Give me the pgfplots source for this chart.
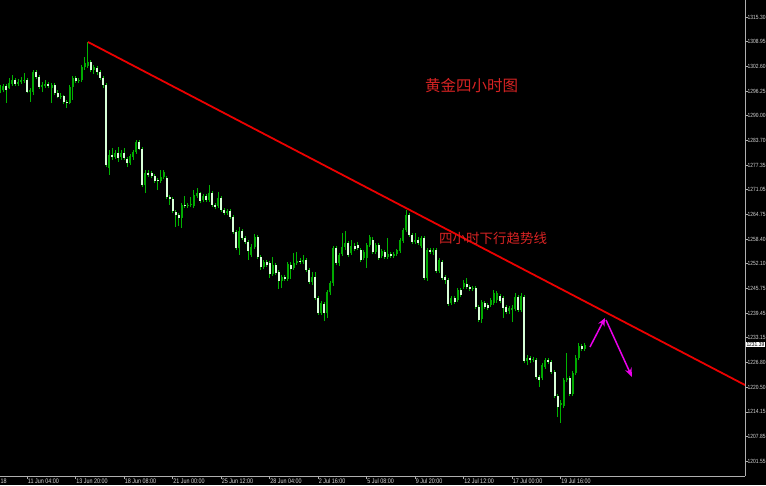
\documentclass[border=0pt]{standalone}
\usepackage{pgfplots}
\pgfplotsset{compat=1.18}
\usepackage{pgfplotstable}
\usepackage{fontspec}
\setmainfont{Liberation Sans}
\newfontfamily\narrow[FakeStretch=0.82]{Liberation Sans}
\newfontfamily\cjk{Noto Sans CJK SC}
\usetikzlibrary{arrows.meta}
\definecolor{wick}{RGB}{0,180,0}
\definecolor{bull}{RGB}{0,170,0}
\definecolor{bear}{RGB}{215,255,215}
\definecolor{axgray}{RGB}{175,175,175}
\definecolor{lbl}{RGB}{215,215,215}
\definecolor{trend}{RGB}{235,0,0}
\definecolor{note}{RGB}{215,35,35}
\definecolor{arrowmag}{RGB}{235,0,235}

\pgfplotstableread{
i o h l c
0 1296.60 1297.88 1295.83 1297.11
1 1296.60 1298.14 1296.09 1297.63
2 1297.63 1298.14 1293.27 1296.60
3 1297.11 1299.68 1296.86 1298.40
4 1298.14 1300.44 1297.63 1299.16
5 1299.16 1299.68 1297.63 1298.14
6 1298.14 1299.42 1297.63 1298.65
7 1298.65 1299.93 1298.14 1299.16
8 1298.91 1300.96 1298.40 1299.16
9 1299.16 1299.68 1295.83 1296.09
10 1296.09 1297.11 1293.53 1296.60
11 1296.09 1301.73 1295.32 1301.21
12 1301.21 1301.73 1299.42 1299.93
13 1299.93 1300.44 1296.86 1297.37
14 1297.37 1298.65 1296.09 1297.88
15 1297.63 1299.16 1297.11 1298.14
16 1298.14 1298.65 1297.11 1297.63
17 1297.11 1298.40 1293.27 1297.88
18 1297.88 1298.40 1295.32 1295.83
19 1295.83 1296.60 1294.55 1294.81
20 1294.81 1295.83 1294.30 1295.06
21 1295.06 1295.32 1293.01 1293.53
22 1293.53 1294.04 1291.99 1293.27
23 1293.27 1297.88 1293.01 1297.37
24 1297.37 1300.19 1294.04 1299.68
25 1299.68 1300.19 1298.40 1298.91
26 1298.91 1299.68 1298.40 1299.16
27 1299.16 1303.01 1298.65 1302.49
28 1302.49 1305.06 1301.73 1303.52
29 1302.75 1308.90 1302.24 1303.78
30 1303.78 1304.29 1301.21 1301.73
31 1301.73 1303.01 1300.70 1302.49
32 1302.24 1302.75 1300.44 1301.21
33 1301.21 1301.73 1299.16 1299.68
34 1299.68 1300.19 1297.11 1297.88
35 1297.88 1298.40 1276.87 1277.39
36 1276.62 1281.23 1274.83 1279.95
37 1279.95 1281.74 1278.67 1279.44
38 1279.44 1281.23 1278.92 1280.46
39 1280.46 1282.00 1278.16 1279.18
40 1279.44 1281.23 1278.67 1280.46
41 1280.46 1281.74 1278.67 1279.18
42 1278.92 1279.44 1276.87 1277.90
43 1277.90 1280.21 1277.39 1279.69
44 1279.44 1281.23 1278.67 1280.72
45 1280.72 1283.79 1280.21 1283.28
46 1283.28 1283.79 1281.23 1281.49
47 1281.49 1282.00 1271.75 1272.26
48 1272.26 1276.11 1270.21 1275.34
49 1275.34 1276.11 1274.31 1274.83
50 1275.34 1275.85 1274.06 1274.57
51 1274.57 1275.08 1272.78 1273.29
52 1273.54 1274.06 1270.98 1273.29
53 1273.29 1276.11 1272.78 1274.31
54 1274.31 1276.11 1273.80 1275.59
55 1274.06 1274.57 1268.68 1269.19
56 1269.19 1269.70 1267.14 1268.68
57 1268.68 1269.19 1265.09 1265.60
58 1265.35 1265.86 1261.50 1264.58
59 1264.58 1265.09 1261.76 1263.81
60 1263.81 1267.65 1261.25 1267.14
61 1267.14 1269.44 1266.37 1266.88
62 1266.88 1267.65 1266.37 1267.14
63 1267.14 1269.19 1266.63 1267.40
64 1266.88 1270.98 1266.37 1269.70
65 1269.44 1271.49 1268.93 1270.21
66 1270.21 1270.47 1267.65 1268.17
67 1268.42 1269.96 1267.91 1269.44
68 1269.44 1269.96 1267.91 1268.42
69 1268.42 1272.26 1267.91 1270.21
70 1270.21 1270.72 1266.63 1267.14
71 1267.14 1267.65 1266.11 1266.63
72 1266.88 1270.47 1266.37 1268.93
73 1268.93 1269.44 1265.35 1265.86
74 1265.86 1266.37 1264.58 1265.09
75 1265.09 1266.11 1264.58 1265.60
76 1265.60 1266.11 1263.55 1264.07
77 1264.07 1264.58 1259.71 1260.22
78 1260.22 1260.73 1255.61 1256.12
79 1256.12 1261.50 1254.33 1260.47
80 1260.47 1260.99 1258.17 1258.68
81 1258.68 1259.19 1257.15 1257.66
82 1257.66 1258.17 1253.05 1255.35
83 1254.33 1257.15 1253.82 1256.38
84 1256.38 1259.71 1255.87 1258.94
85 1258.94 1259.45 1253.31 1253.82
86 1253.82 1254.33 1250.49 1251.25
87 1251.25 1253.05 1250.74 1252.53
88 1252.53 1253.05 1251.25 1251.77
89 1252.28 1252.79 1248.44 1249.46
90 1249.46 1253.82 1248.95 1251.77
91 1251.77 1252.28 1249.21 1249.72
92 1249.97 1250.49 1245.62 1247.67
93 1247.67 1249.21 1245.87 1248.70
94 1248.70 1249.21 1247.67 1248.18
95 1248.18 1252.53 1247.67 1252.02
96 1251.77 1252.53 1248.18 1250.74
97 1251.00 1254.84 1250.49 1252.28
98 1252.28 1255.10 1251.77 1252.79
99 1252.79 1253.56 1252.02 1252.53
100 1252.53 1254.33 1252.02 1253.05
101 1253.05 1253.56 1249.97 1250.49
102 1250.49 1251.00 1246.90 1247.42
103 1247.42 1249.97 1246.65 1248.70
104 1248.70 1249.97 1242.80 1243.31
105 1243.31 1243.82 1238.96 1239.47
106 1239.47 1242.54 1238.96 1242.03
107 1241.78 1242.29 1237.42 1239.47
108 1239.47 1245.36 1238.19 1244.85
109 1244.85 1247.67 1244.08 1247.16
110 1247.16 1256.63 1246.39 1256.12
111 1256.12 1256.63 1251.77 1252.28
112 1252.28 1254.84 1251.51 1254.33
113 1254.59 1259.96 1254.07 1256.38
114 1256.38 1260.47 1255.61 1257.41
115 1257.41 1257.92 1253.82 1254.33
116 1254.84 1258.17 1254.33 1256.63
117 1256.63 1257.41 1255.35 1255.87
118 1256.89 1257.66 1255.61 1256.12
119 1255.61 1256.12 1252.53 1253.05
120 1253.56 1255.61 1253.05 1255.10
121 1253.56 1257.41 1251.00 1256.89
122 1256.89 1259.45 1256.38 1258.94
123 1258.17 1258.94 1254.59 1255.10
124 1255.10 1257.41 1254.59 1256.89
125 1256.89 1257.41 1253.05 1253.56
126 1254.07 1255.87 1253.56 1255.35
127 1255.10 1255.61 1253.31 1253.82
128 1253.82 1258.68 1253.31 1254.59
129 1254.59 1255.10 1253.56 1254.07
130 1254.07 1255.10 1253.56 1254.59
131 1254.59 1255.87 1254.07 1255.61
132 1255.35 1258.68 1254.84 1258.17
133 1257.92 1261.25 1257.41 1260.73
134 1260.73 1265.86 1260.22 1264.58
135 1264.58 1265.09 1258.94 1259.45
136 1259.45 1259.96 1257.15 1257.66
137 1257.66 1259.96 1257.15 1258.17
138 1258.17 1258.94 1256.89 1257.41
139 1256.63 1259.19 1256.12 1258.68
140 1258.68 1259.19 1247.93 1248.44
141 1248.44 1256.12 1247.67 1255.61
142 1255.61 1256.12 1254.59 1255.10
143 1255.10 1256.12 1254.33 1255.61
144 1255.61 1256.12 1249.72 1250.23
145 1250.23 1253.56 1249.72 1253.05
146 1252.53 1253.05 1247.93 1248.44
147 1248.70 1249.21 1246.90 1247.93
148 1247.93 1248.44 1241.27 1241.78
149 1242.03 1243.82 1241.52 1243.31
150 1243.31 1243.82 1241.78 1242.29
151 1242.80 1245.87 1242.29 1245.36
152 1245.36 1245.87 1243.57 1244.08
153 1246.13 1247.93 1245.62 1247.16
154 1246.90 1248.44 1245.62 1246.13
155 1246.13 1246.65 1245.10 1245.62
156 1245.62 1246.39 1245.10 1245.87
157 1245.87 1246.39 1240.50 1241.01
158 1241.01 1241.52 1237.16 1237.68
159 1237.93 1242.80 1236.91 1242.29
160 1242.03 1242.54 1240.50 1241.01
161 1241.52 1242.03 1240.24 1240.75
162 1241.52 1243.31 1241.01 1242.80
163 1242.03 1245.36 1241.52 1244.59
164 1242.80 1245.10 1242.03 1244.59
165 1243.82 1244.33 1242.03 1242.54
166 1243.31 1243.82 1238.19 1240.75
167 1241.01 1241.52 1239.21 1239.73
168 1239.98 1241.27 1239.21 1240.75
169 1240.24 1241.52 1237.16 1240.75
170 1240.50 1244.59 1239.98 1243.57
171 1243.57 1244.08 1239.73 1240.24
172 1240.24 1244.59 1239.73 1243.82
173 1243.57 1244.08 1226.66 1227.17
174 1227.17 1228.71 1226.15 1227.94
175 1227.94 1228.45 1226.66 1227.42
176 1227.42 1228.19 1226.91 1227.68
177 1227.42 1227.94 1222.56 1223.07
178 1223.07 1223.58 1220.51 1222.30
179 1222.81 1226.66 1222.30 1226.15
180 1225.64 1227.94 1225.13 1227.42
181 1227.42 1227.94 1226.40 1226.91
182 1226.91 1227.42 1223.84 1224.35
183 1224.35 1224.86 1217.69 1218.20
184 1218.20 1218.71 1212.82 1215.38
185 1215.89 1217.18 1211.29 1216.40
186 1215.64 1222.81 1215.13 1222.30
187 1222.30 1229.22 1221.79 1222.81
188 1222.81 1223.33 1218.20 1218.71
189 1218.71 1224.61 1218.20 1224.10
190 1224.10 1228.71 1223.58 1227.94
191 1227.94 1231.78 1227.42 1231.01
192 1231.01 1231.52 1229.73 1230.24
193 1230.24 1231.78 1229.73 1231.39
}\candles

\begin{document}
\begin{tikzpicture}
\useasboundingbox (0,0) rectangle (766pt,485pt);
\fill[black] (0,0) rectangle (766pt,485pt);
\begin{axis}[
  at={(0pt,9pt)}, anchor=south west,
  width=745pt, height=476pt, scale only axis,
  xmin=0, xmax=245.87, ymin=1197.71, ymax=1319.66,
  axis x line*=bottom, axis y line*=right,
  axis line style={draw=axgray, line width=0.8pt},
  clip mode=individual,
  xtick={9,25,...,185},
  xticklabels={11 Jun 04:00,13 Jun 20:00,18 Jun 08:00,21 Jun 00:00,25 Jun 12:00,28 Jun 04:00,2 Jul 16:00,5 Jul 08:00,9 Jul 20:00,12 Jul 12:00,17 Jul 00:00,19 Jul 16:00},
  ytick={1315.30,1308.95,1302.60,1296.25,1290.00,1283.70,1277.35,1271.05,1264.75,1258.40,1252.10,1245.75,1239.45,1233.15,1226.80,1220.50,1214.15,1207.85,1201.55},
  yticklabels={1315.30,1308.95,1302.60,1296.25,1290.00,1283.70,1277.35,1271.05,1264.75,1258.40,1252.10,1245.75,1239.45,1233.15,1226.80,1220.50,1214.15,1207.85,1201.55},
  tick align=outside, major tick length=2.5pt,
  tick style={draw=axgray, line width=0.6pt},
  xticklabel style={anchor=north west, inner sep=0pt, xshift=0.5pt, font=\narrow\fontsize{6.6}{7}\selectfont, text=lbl},
  yticklabel style={anchor=west, inner sep=0pt, xshift=0pt, font=\narrow\fontsize{6}{6}\selectfont, text=lbl},
]
% wicks
\addplot[draw=none, mark=none, error bars/.cd, y dir=plus, y explicit, error mark=none,
  error bar style={draw=wick, line width=0.9pt}]
  table[x=i, y=l, y error plus expr={\thisrow{h}-\thisrow{l}}]{\candles};
% all bodies (bear colour)
\addplot[draw=none, mark=none, error bars/.cd, y dir=plus, y explicit, error mark=none,
  error bar style={draw=bear, line width=2pt}]
  table[x=i, y expr={min(\thisrow{o},\thisrow{c})}, y error plus expr={max(abs(\thisrow{c}-\thisrow{o}),0.3)}]{\candles};
% bull bodies overlay
\addplot[draw=none, mark=none, error bars/.cd, y dir=plus, y explicit, error mark=none,
  error bar style={draw=bull, line width=2pt}]
  table[x=i, y=o, y error plus expr={max(\thisrow{c}-\thisrow{o},0)}]{\candles};
% trend line
\addplot[trend, line width=1.8pt] coordinates {(29.04,1308.90) (245.87,1221.02)};
% arrows
\draw[arrowmag, line width=1.5pt, -{Stealth[length=8pt,width=7pt]}] (axis cs:194.7,1230.76) -- (axis cs:199.67,1238.19);
\draw[arrowmag, line width=1.5pt, -{Stealth[length=9pt,width=7pt]}] (axis cs:200.0,1237.68) -- (axis cs:208.58,1223.07);
% current price box
\node[fill=white, text=black, inner sep=0.7pt, anchor=west, font=\narrow\fontsize{6}{6}\selectfont, xshift=0.6pt] at (axis cs:245.87,1231.39) {1231.39};
\end{axis}
\node[anchor=north west, inner sep=0pt, text=lbl, font=\narrow\fontsize{6.6}{7}\selectfont] at (0.5pt,6.5pt) {18};
\node[text=note, inner sep=0pt, font=\cjk\fontsize{15.5}{16}\selectfont] at (471.5pt,399pt) {黄金四小时图};
\node[text=note, inner sep=0pt, font=\cjk\fontsize{13.5}{14}\selectfont] at (493pt,247pt) {四小时下行趋势线};
\end{tikzpicture}
\end{document}
